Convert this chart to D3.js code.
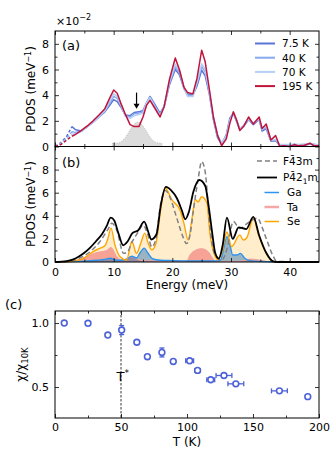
<!DOCTYPE html>
<html>
<head>
<meta charset="utf-8">
<script src="https://cdn.jsdelivr.net/npm/d3@7"></script>
<style>
  body { margin: 0; background: #fff; }
  svg { display: block; font-family: "DejaVu Sans", sans-serif; }
</style>
</head>
<body>
<svg id="fig" width="336" height="457"></svg>
<script>
// ---- panel (a): PDOS vs temperature (x 1e-2 meV^-1)
const energyA = [0, 1, 2, 2.9, 3.5, 4.5, 5.5, 6.5, 7.5, 8.5, 9.3, 10, 10.6, 11.2, 12, 12.8, 13.5, 14.3, 15, 15.6,
  16.2, 17, 17.9, 18.6, 19.5, 20.5, 21.2, 22, 22.6, 23.5, 24.2, 25, 25.6, 26.3, 27, 27.7, 28.4, 29.2, 29.8, 30.4,
  31, 31.5, 32.2, 33, 33.8, 34.8, 35.3, 36, 36.8, 37.6, 38.3, 39, 40, 40.8, 41.5, 42.5, 43.5, 44.2, 45];
const pdos7K = [0, 0.3, 0.8, 1.55, 1.3, 1.2, 1.55, 1.9, 2.3, 2.7, 3.2, 3.65, 3.5, 3.1, 2.45, 2.4, 2.65, 2.7, 2.8, 3.4,
  3.9, 3.3, 2.6, 3.1, 4.8, 6.0, 5.6, 4.5, 4.1, 4.0, 4.7, 5.95, 5.5, 4.1, 2.1, 0.7, 0.2, 0.9, 2.2, 2.6,
  1.9, 1.3, 1.6, 2.1, 1.7, 2.1, 1.2, 1.4, 0.4, 0.45, 0.1, 0.1, 0.05, 0.1, 0.05, 0.1, 0.2, 0.1, 0.05];
const pdos40K = [0, 0.25, 0.65, 1.15, 1.1, 1.2, 1.55, 1.9, 2.3, 2.75, 3.35, 3.9, 3.75, 3.2, 2.4, 2.3, 2.55, 2.6, 2.7, 3.4,
  3.85, 3.2, 2.5, 3.1, 4.9, 6.2, 5.8, 4.5, 4.0, 3.95, 4.9, 6.25, 5.8, 4.2, 2.2, 0.8, 0.2, 0.8, 2.1, 2.6,
  1.95, 1.35, 1.65, 2.15, 1.75, 2.15, 1.3, 1.5, 0.45, 0.5, 0.1, 0.1, 0.1, 0.15, 0.1, 0.15, 0.2, 0.15, 0.1];
const pdos70K = [0, 0.2, 0.55, 0.95, 1.0, 1.15, 1.55, 1.9, 2.3, 2.8, 3.5, 4.1, 3.9, 3.3, 2.35, 2.2, 2.4, 2.5, 2.6, 3.4,
  3.8, 3.1, 2.4, 3.1, 5.0, 6.4, 6.0, 4.5, 3.9, 3.9, 5.0, 6.45, 6.0, 4.3, 2.3, 0.9, 0.3, 0.8, 2.0, 2.7,
  2.0, 1.4, 1.7, 2.2, 1.8, 2.2, 1.35, 1.6, 0.5, 0.55, 0.15, 0.15, 0.15, 0.2, 0.15, 0.2, 0.25, 0.2, 0.1];
const pdos195K = [0, 0.15, 0.5, 0.8, 0.95, 1.25, 1.6, 2.0, 2.45, 2.95, 3.75, 4.4, 4.15, 3.4, 2.5, 1.7, 1.55, 1.55, 2.3, 3.2,
  3.6, 3.0, 2.3, 3.1, 5.2, 6.9, 6.0, 4.6, 4.2, 4.1, 5.3, 7.5, 6.6, 4.5, 2.3, 0.9, 0.05, 0.6, 1.8, 2.7,
  2.0, 1.25, 1.6, 2.3, 1.75, 2.3, 1.4, 1.75, 0.5, 0.85, 0.02, 0.05, 0.0, 0.15, 0.05, 0.1, 0.25, 0.05, 0.05];
const tempLabels = ["7.5 K", "40 K", "70 K", "195 K"];
const tempColors = ["#5a74d6", "#87a9ef", "#b6cff5", "#c0143c"];
const dashedUpTo = 2.9;
// grey shaded mode
const peakE = [9.7, 9.8, 10.5, 11, 11.5, 12, 12.5, 13, 13.5, 14, 14.5, 15, 15.5, 16, 16.5, 17, 17.5, 18.2, 18.3];
const peakV = [0, 0.25, 0.25, 0.3, 0.45, 0.7, 1.05, 1.45, 1.75, 1.9, 1.85, 1.6, 1.25, 0.85, 0.55, 0.35, 0.28, 0.25, 0];
const arrowE = 13.9, arrowFrom = 4.2, arrowTo = 2.95;

// ---- panel (b): calculated PDOS (meV^-1)
const eF43 = [0, 2, 4, 6, 7.7, 9, 9.7, 10.5, 11.7, 12.4, 13.1, 14.2, 15, 15.8, 16.5, 17.2, 18, 18.8, 19.6, 20.7,
  21.8, 22.4, 23, 23.6, 24.4, 25, 25.6, 26.4, 27, 27.7, 28.4, 29.3, 30.4, 31.5, 32.4, 33.5, 34.5, 35.3, 36.1, 37.2, 37.8, 45];
const pF43 = [0, 0.05, 0.3, 0.9, 1.8, 2.8, 3.35, 2.8, 0.75, 0.9, 1.7, 2.6, 3.2, 2.4, 1.3, 2.0, 5.0, 6.2, 5.6, 3.9,
  2.2, 1.6, 2.3, 4.5, 7.2, 8.7, 7.8, 3.1, 1.0, 0.4, 0.15, 1.1, 3.5, 2.9, 3.2, 3.6, 3.8, 3.0, 1.9, 0.5, 0.05, 0];
const eP421 = [0, 2, 3, 4, 5, 6, 7, 8, 8.8, 9.5, 10.1, 10.8, 11.6, 12.4, 13.2, 14.2, 15.2, 15.9, 16.4, 17.3,
  18, 18.9, 19.8, 20.8, 21.6, 22.2, 22.8, 23.6, 24.6, 25.6, 26.2, 26.8, 27.3, 27.9, 28.6, 29.3, 30.3, 31.3, 32.6, 33.8,
  34.8, 36, 37.2, 38, 45];
const pP421 = [0, 0.08, 0.2, 0.45, 0.8, 1.25, 1.8, 2.4, 3.1, 3.85, 3.6, 2.5, 1.45, 1.8, 2.5, 2.75, 3.5, 2.6, 1.95, 2.4,
  4.8, 6.5, 6.2, 5.5, 4.5, 3.7, 4.3, 6.1, 7.1, 6.6, 4.8, 2.5, 0.8, 0.3, 1.5, 3.85, 2.0, 3.0, 2.85, 3.9,
  2.3, 0.8, 0.05, 0, 0];
const eSe = [0, 2, 3.5, 4.8, 6.5, 7.7, 8.5, 9, 9.55, 10.2, 11.1, 12.2, 13.1, 13.9, 14.6, 15.3, 15.9, 16.5, 17.2, 18,
  18.75, 19.9, 21.3, 22, 22.7, 23.3, 23.9, 24.4, 25, 25.9, 26.4, 27.1, 27.8, 28.5, 29.3, 30.1, 31.5, 32.1, 32.7, 33.8,
  34.8, 36, 37.2, 38, 45];
const pSe = [0, 0.02, 0.12, 0.3, 0.9, 1.2, 1.4, 2.0, 2.93, 1.5, 0.45, 0.17, 1.77, 0.75, 1.6, 2.5, 1.6, 1.05, 1.6, 4.5,
  6.45, 5.4, 4.5, 3.3, 1.9, 3.6, 5.4, 5.2, 5.65, 5.1, 2.5, 0.75, 0.2, 0.9, 2.6, 1.33, 2.35, 1.9, 2.1, 3.8,
  2.2, 0.75, 0.05, 0, 0];
const eTa = [0, 2, 3, 4, 5, 6, 7, 8, 8.8, 9.55, 10.5, 11.4, 12.2, 13, 13.8, 14.5, 15.5, 17, 19, 21,
  22.5, 23, 23.9, 25, 26.1, 26.7, 27.3, 28, 30, 32, 33.5, 34.5, 36, 38, 45];
const pTa = [0, 0.02, 0.08, 0.2, 0.4, 0.6, 0.8, 0.9, 1.0, 1.25, 0.5, 0.17, 0.25, 0.45, 0.3, 0.15, 0.1, 0.08, 0.05, 0.05,
  0.1, 0.6, 1.0, 1.15, 0.9, 0.46, 0.1, 0.05, 0.05, 0.1, 0.25, 0.2, 0.05, 0, 0];
const eGa = [0, 3, 5, 7, 8.5, 9.4, 10.2, 11.1, 12.2, 13.1, 13.9, 14.5, 15.2, 15.8, 16.6, 18, 20, 22, 24, 26,
  27.5, 28.2, 28.8, 29.3, 29.8, 30.3, 31, 31.6, 32.4, 33.5, 35, 37, 38, 45];
const pGa = [0, 0.03, 0.08, 0.15, 0.22, 0.32, 0.2, 0.15, 0.25, 0.5, 0.35, 0.8, 1.2, 0.8, 0.3, 0.15, 0.12, 0.1, 0.1, 0.1,
  0.1, 0.15, 1.3, 2.2, 1.5, 0.6, 0.6, 0.75, 0.3, 0.1, 0.05, 0.02, 0, 0];

// ---- panel (c): susceptibility ratio
const tempK = [7, 25, 40, 50.5, 62, 70, 81, 89.6, 102, 108, 118, 128, 137, 170, 191.5];
const chiRatio = [1.0, 0.998, 0.906, 0.945, 0.85, 0.737, 0.77, 0.70, 0.705, 0.63, 0.557, 0.59, 0.525, 0.47, 0.425];
const tempErr = [0, 0, 0, 0, 0, 0, 0, 0, 3, 2, 3, 6, 6, 6, 0];
const chiErr = [0, 0, 0, 0.035, 0, 0, 0.035, 0, 0, 0, 0, 0, 0, 0, 0];
const tStar = 50;

const FONT = "'DejaVu Sans', sans-serif";
const svg = d3.select("#fig");
const L = 55, R = 319;

const xE = d3.scaleLinear().domain([0, 45]).range([L, R]);
const yA = d3.scaleLinear().domain([0, 9]).range([146.5, 31]);
const yB = d3.scaleLinear().domain([0, 10]).range([262, 146.5]);
const xT = d3.scaleLinear().domain([0, 200]).range([L, R]);
const yC = d3.scaleLinear().domain([0.258, 1.094]).range([418, 311]);

function addTicks(fn, scale, vals, size, tr, fmt, pad) {
  const ax = fn(scale).tickValues(vals).tickSize(-size).tickPadding(pad || 6)
    .tickFormat(fmt || (() => ""));
  const g = svg.append("g").attr("transform", tr).call(ax);
  g.select(".domain").remove();
  g.selectAll("line").attr("stroke", "#000").attr("stroke-width", 0.8);
  g.selectAll("text").attr("fill", "#000").style("font", "11px " + FONT);
}

function frame(x, y, o) {
  const [xl, xr] = x.range(), [yb, yt] = y.range();
  addTicks(d3.axisBottom, x, o.xMajor, 4, `translate(0,${yb})`, o.xFmt, o.xPad);
  addTicks(d3.axisBottom, x, o.xMinor, 2.5, `translate(0,${yb})`);
  addTicks(d3.axisTop, x, o.xMajor, 4, `translate(0,${yt})`);
  addTicks(d3.axisTop, x, o.xMinor, 2.5, `translate(0,${yt})`);
  addTicks(d3.axisLeft, y, o.yMajor, 4, `translate(${xl},0)`, o.yFmt, 6);
  addTicks(d3.axisLeft, y, o.yMinor, 2.5, `translate(${xl},0)`);
  addTicks(d3.axisRight, y, o.yMajor, 4, `translate(${xr},0)`);
  addTicks(d3.axisRight, y, o.yMinor, 2.5, `translate(${xr},0)`);
  svg.append("rect").attr("x", xl).attr("y", yt).attr("width", xr - xl).attr("height", yb - yt)
    .attr("fill", "none").attr("stroke", "#000").attr("stroke-width", 1);
}

function yLabel(x, y, parts) {
  const t = svg.append("text").attr("transform", `translate(${x},${y}) rotate(-90)`)
    .attr("text-anchor", "middle").style("font", "12px " + FONT);
  parts.forEach(p => t.append("tspan").text(p.t).attr("dy", p.dy || 0).style("font-size", p.s || null));
}

// ================= panel (a)
const peak = peakE.map((e, i) => [e, peakV[i]]);
svg.append("path").datum(peak)
  .attr("d", d3.area().x(d => xE(d[0])).y0(yA(0)).y1(d => yA(d[1])))
  .attr("fill", "#dcdcdc").attr("stroke", "#a8a8a8").attr("stroke-width", 0.8)
  .attr("stroke-dasharray", "1,1.5");

const tempSeries = [pdos7K, pdos40K, pdos70K, pdos195K];
const lineA = d3.line().x(d => xE(d[0])).y(d => yA(d[1]));
tempSeries.forEach((vals, k) => {
  const pts = energyA.map((e, i) => [e, vals[i]]);
  svg.append("path").datum(pts.filter(d => d[0] <= dashedUpTo)).attr("d", lineA)
    .attr("fill", "none").attr("stroke", tempColors[k]).attr("stroke-width", 1.5)
    .attr("stroke-dasharray", "3,2");
  svg.append("path").datum(pts.filter(d => d[0] >= dashedUpTo)).attr("d", lineA)
    .attr("fill", "none").attr("stroke", tempColors[k]).attr("stroke-width", 1.5)
    .attr("stroke-linejoin", "round");
});

// arrow
svg.append("line").attr("x1", xE(arrowE)).attr("x2", xE(arrowE))
  .attr("y1", yA(arrowFrom)).attr("y2", yA(arrowTo) - 4)
  .attr("stroke", "#000").attr("stroke-width", 1.2);
svg.append("path")
  .attr("d", `M${xE(arrowE) - 3},${yA(arrowTo) - 5}L${xE(arrowE) + 3},${yA(arrowTo) - 5}L${xE(arrowE)},${yA(arrowTo)}Z`)
  .attr("fill", "#000");

frame(xE, yA, {
  xMajor: [0, 10, 20, 30, 40], xMinor: [5, 15, 25, 35],
  yMajor: [0, 2, 4, 6, 8], yMinor: [1, 3, 5, 7], yFmt: d3.format("d")
});

// legend (a)
tempLabels.forEach((lab, k) => {
  const y = 43.5 + k * 14.2;
  svg.append("line").attr("x1", 255).attr("x2", 275).attr("y1", y).attr("y2", y)
    .attr("stroke", tempColors[k]).attr("stroke-width", 2);
  svg.append("text").attr("x", 282).attr("y", y + 3.8).text(lab).style("font", "10.5px " + FONT);
});

const sci = svg.append("text").attr("x", 56).attr("y", 24.5).style("font", "11px " + FONT);
sci.append("tspan").text("×10");
sci.append("tspan").text("−2").attr("dy", -5).style("font-size", "8px");
svg.append("text").attr("x", 62).attr("y", 50).text("(a)").style("font", "13px " + FONT);
yLabel(35, 89, [{ t: "PDOS (meV" }, { t: "−1", dy: -4, s: "8px" }, { t: ")", dy: 4 }]);

// ================= panel (b)
const areaB = d3.area().curve(d3.curveMonotoneX).x(d => xE(d[0])).y0(yB(0)).y1(d => yB(d[1]));
const lineB = d3.line().curve(d3.curveMonotoneX).x(d => xE(d[0])).y(d => yB(d[1]));
const zip = (e, p) => e.map((v, i) => [v, p[i]]);

const seData = zip(eSe, pSe), taData = zip(eTa, pTa), gaData = zip(eGa, pGa);
svg.append("path").datum(seData).attr("d", areaB).attr("fill", "#ffa500").attr("fill-opacity", 0.2);
svg.append("path").datum(taData).attr("d", areaB).attr("fill", "#f07070").attr("fill-opacity", 0.6);
svg.append("path").datum(gaData).attr("d", areaB).attr("fill", "#1f6fb4").attr("fill-opacity", 0.45);
svg.append("path").datum(taData).attr("d", lineB).attr("fill", "none").attr("stroke", "#f4a0a0").attr("stroke-width", 1);
svg.append("path").datum(gaData).attr("d", lineB).attr("fill", "none").attr("stroke", "#2b93f0").attr("stroke-width", 1.4);
svg.append("path").datum(seData).attr("d", lineB).attr("fill", "none").attr("stroke", "#ffa500").attr("stroke-width", 1.4);
svg.append("path").datum(zip(eF43, pF43)).attr("d", lineB).attr("fill", "none")
  .attr("stroke", "#808080").attr("stroke-width", 1.5).attr("stroke-dasharray", "5,3");
svg.append("path").datum(zip(eP421, pP421)).attr("d", lineB).attr("fill", "none")
  .attr("stroke", "#000").attr("stroke-width", 1.8);

frame(xE, yB, {
  xMajor: [0, 10, 20, 30, 40], xMinor: [5, 15, 25, 35], xFmt: d3.format("d"), xPad: 6,
  yMajor: [0, 2, 4, 6, 8], yMinor: [1, 3, 5, 7, 9], yFmt: d3.format("d")
});

// legend (b)
const legB = [
  { y: 161, x1: 257, x2: 277, tx: 283, color: "#808080", dash: "5,3", w: 1.5 },
  { y: 177.5, x1: 257, x2: 277, tx: 283, color: "#000", dash: null, w: 1.8 },
  { y: 192.5, x1: 264.5, x2: 279, tx: 287, color: "#2b93f0", dash: null, w: 1.5, label: "Ga" },
  { y: 207, x1: 264.5, x2: 279, tx: 287, color: "#f7a6a6", dash: null, w: 2.5, label: "Ta" },
  { y: 221.5, x1: 264.5, x2: 279, tx: 287, color: "#ffa500", dash: null, w: 1.5, label: "Se" }
];
legB.forEach((d, k) => {
  svg.append("line").attr("x1", d.x1).attr("x2", d.x2).attr("y1", d.y).attr("y2", d.y)
    .attr("stroke", d.color).attr("stroke-width", d.w).attr("stroke-dasharray", d.dash);
  const t = svg.append("text").attr("x", d.tx).attr("y", d.y + 3.8).style("font", "10.5px " + FONT);
  if (k === 0) t.text("F4\u03043m");
  else if (k === 1) {
    t.append("tspan").text("P4\u03042");
    t.append("tspan").text("1").attr("dy", 2.5).style("font-size", "7.5px");
    t.append("tspan").text("m").attr("dy", -2.5);
  } else t.text(d.label);
});

svg.append("text").attr("x", 62).attr("y", 167).text("(b)").style("font", "13px " + FONT);
yLabel(35, 204, [{ t: "PDOS (meV" }, { t: "−1", dy: -4, s: "8px" }, { t: ")", dy: 4 }]);
svg.append("text").attr("x", 187).attr("y", 288.5).attr("text-anchor", "middle")
  .text("Energy (meV)").style("font", "12px " + FONT);

// ================= panel (c)
svg.append("line").attr("x1", xT(tStar)).attr("x2", xT(tStar))
  .attr("y1", yC.range()[1]).attr("y2", yC.range()[0])
  .attr("stroke", "#000").attr("stroke-width", 0.8).attr("stroke-dasharray", "2.5,1.5");
const ts = svg.append("text").attr("x", 116.5).attr("y", 381).style("font", "13px " + FONT);
ts.append("tspan").text("T");
ts.append("tspan").text("*").attr("dy", -5).style("font-size", "9px");

const pts = tempK.map((t, i) => ({ t, c: chiRatio[i], te: tempErr[i], ce: chiErr[i] }));
const blue = "#4d62d8";
const g = svg.append("g").attr("stroke", blue).attr("stroke-width", 1.3);
pts.filter(d => d.te > 0).forEach(d => {
  g.append("line").attr("x1", xT(d.t - d.te)).attr("x2", xT(d.t + d.te)).attr("y1", yC(d.c)).attr("y2", yC(d.c));
  [d.t - d.te, d.t + d.te].forEach(v => g.append("line").attr("x1", xT(v)).attr("x2", xT(v))
    .attr("y1", yC(d.c) - 2.5).attr("y2", yC(d.c) + 2.5));
});
pts.filter(d => d.ce > 0).forEach(d => {
  g.append("line").attr("x1", xT(d.t)).attr("x2", xT(d.t)).attr("y1", yC(d.c - d.ce)).attr("y2", yC(d.c + d.ce));
  [d.c - d.ce, d.c + d.ce].forEach(v => g.append("line").attr("x1", xT(d.t) - 2.5).attr("x2", xT(d.t) + 2.5)
    .attr("y1", yC(v)).attr("y2", yC(v)));
});
g.selectAll("circle").data(pts).enter().append("circle")
  .attr("cx", d => xT(d.t)).attr("cy", d => yC(d.c)).attr("r", 2.9)
  .attr("fill", "#fff").attr("stroke-width", 1.6);

frame(xT, yC, {
  xMajor: [0, 50, 100, 150, 200], xMinor: [25, 75, 125, 175], xFmt: d3.format("d"), xPad: 5,
  yMajor: [0.5, 1.0], yMinor: [0.75], yFmt: d3.format(".1f")
});

svg.append("text").attr("x", 5).attr("y", 309).text("(c)").style("font", "13px " + FONT);
yLabel(25, 364.5, [{ t: "χ/χ" }, { t: "10K", dy: 3, s: "8.5px" }]);
svg.append("text").attr("x", 187).attr("y", 446).attr("text-anchor", "middle")
  .text("T (K)").style("font", "12px " + FONT);
</script>
</body>
</html>
